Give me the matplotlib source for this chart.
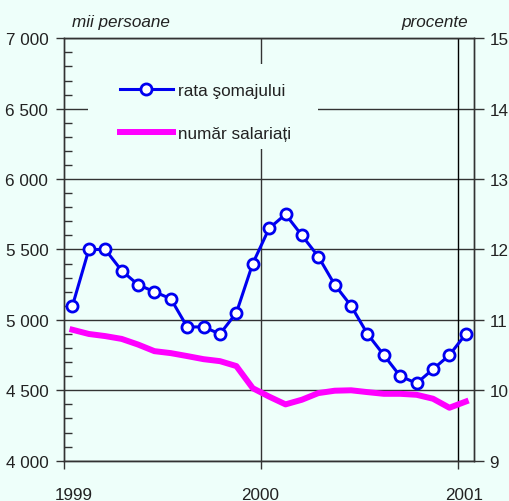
import matplotlib
matplotlib.use("Agg")
import matplotlib.pyplot as plt
from matplotlib.patches import Rectangle
from matplotlib.lines import Line2D

# Data: monthly, Jan 1999 - Jan 2001
months = list(range(25))
somaj = [11.2, 12.0, 12.0, 11.7, 11.5, 11.4, 11.3, 10.9, 10.9, 10.8, 11.1, 11.8,
         12.3, 12.5, 12.2, 11.9, 11.5, 11.2, 10.8, 10.5, 10.2, 10.1, 10.3, 10.5, 10.8]
salariati = [4930, 4900, 4885, 4865, 4825, 4778, 4764, 4743, 4721, 4707, 4672, 4515,
             4455, 4400, 4433, 4480, 4497, 4500, 4487, 4475, 4475, 4468, 4440, 4376, 4420]
year_labels = ["1999", "2000", "2001"]
left_ticks = [4000, 4500, 5000, 5500, 6000, 6500, 7000]
right_ticks = [9, 10, 11, 12, 13, 14, 15]

bg = "#EEFFFA"
ink = "#222222"
line_c = "#333333"

plt.rcParams["font.family"] = ["Liberation Sans", "DejaVu Sans"]
plt.rcParams["font.size"] = 12.3

fig = plt.figure(figsize=(5.10, 5.02), dpi=100, facecolor=bg)
ax = fig.add_axes([0.126, 0.0803, 0.8034, 0.8414], facecolor=bg)
ax2 = ax.twinx()

x = [m + 0.5 for m in months]

# grid lines
for v in left_ticks:
    ax.axhline(v, color=line_c, lw=1.0, zorder=1)
for v in [12, 24]:
    ax.axvline(v, color=line_c if v == 12 else "black", lw=1.0, zorder=1)

# legend background patch (hides the grid)
ax.add_patch(Rectangle((0.058, 0.738), 0.561, 0.201, transform=ax.transAxes,
                       facecolor=bg, edgecolor="none", zorder=1.5))

ax.plot(x, salariati, color="#FF00FF", lw=4.3, zorder=3, solid_joinstyle="round")
ax2.plot(x, somaj, color="#0000F0", lw=2.2, marker="o", ms=8, mfc="white",
         mec="#0000F0", mew=2.0, zorder=3)

ax.set_xlim(0, 25)
ax.set_ylim(4000, 7000)
ax2.set_ylim(9, 15)

ax.set_yticks(left_ticks)
ax.set_yticklabels([f"{v:,}".replace(",", " ") for v in left_ticks], color=ink)
ax.set_yticks(range(4000, 7001, 100), minor=True)
ax.tick_params(axis="y", which="major", direction="out", length=6, width=1.0,
               color=line_c, pad=5.5)
ax.tick_params(axis="y", which="minor", direction="in", length=6, width=1.0,
               color=line_c)

ax2.set_yticks(right_ticks)
ax2.set_yticklabels([str(v) for v in right_ticks], color=ink)
ax2.tick_params(axis="y", direction="out", length=7, width=1.0, color=line_c, pad=4)

ax.set_xticks([0.56, 11.95, 24.4])
ax.set_xticklabels(year_labels, color=ink)
ax.set_xticks([0, 12, 24], minor=True)
ax.tick_params(axis="x", which="major", length=0, pad=19)
ax.tick_params(axis="x", which="minor", direction="out", length=6, width=1.0, color=line_c)

for a in (ax, ax2):
    for s in a.spines.values():
        s.set_color(line_c)
        s.set_linewidth(1.0)

handles = [Line2D([], [], color="#0000F0", lw=2.2, marker="o", ms=8, mfc="white",
                  mec="#0000F0", mew=2.0),
           Line2D([], [], color="#FF00FF", lw=4.3)]
leg = ax2.legend(handles, ["rata şomajului", "număr salariați"], loc="upper left",
                 bbox_to_anchor=(0.136, 0.895), frameon=False, borderpad=0,
                 borderaxespad=0, handlelength=3.1, handletextpad=0.3,
                 labelspacing=1.67, fontsize=12.3)
for t in leg.get_texts():
    t.set_color(ink)

fig.text(72 / 510, 1 - 22 / 502, "mii persoane", style="italic", color=ink,
         ha="left", va="center", fontsize=12.3)
fig.text(468 / 510, 1 - 22 / 502, "procente", style="italic", color=ink,
         ha="right", va="center", fontsize=12.3)

fig.savefig("out.png", dpi=100, facecolor=bg)
